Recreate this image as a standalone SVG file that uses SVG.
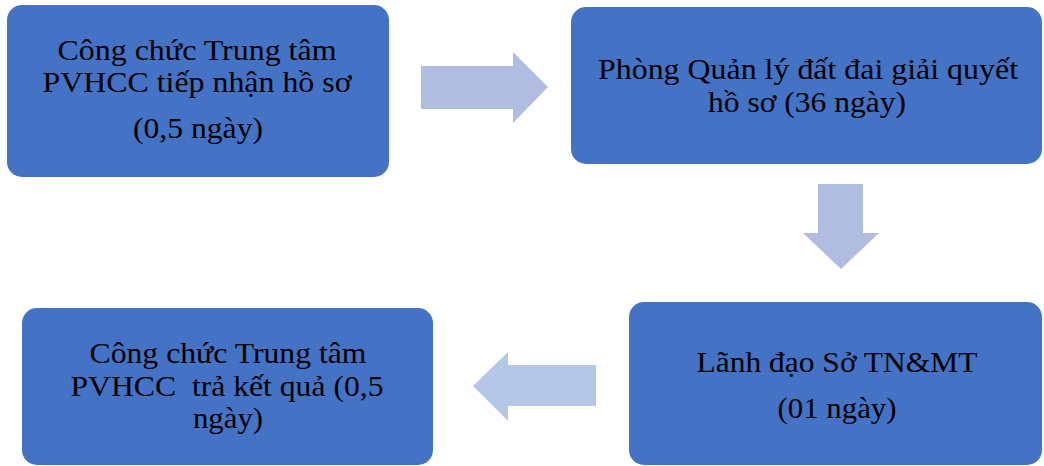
<svg xmlns="http://www.w3.org/2000/svg" width="1044" height="466" viewBox="0 0 1044 466">
<style>
.box{fill:#4472C4;}
.t{font-family:"Liberation Serif","Times New Roman",serif;font-size:30px;fill:#000;text-anchor:middle;}
.a1{fill:#B0BDE0;}
.a2{fill:#B4C7E7;}
</style>
<rect width="1044" height="466" fill="#ffffff"/>
<g id="node1">
<rect class="box" x="7" y="5" width="382" height="172" rx="15"/>
<text class="t" x="197" y="60" textLength="279" lengthAdjust="spacingAndGlyphs">Công chức Trung tâm</text>
<text class="t" x="197" y="92" textLength="309" lengthAdjust="spacingAndGlyphs">PVHCC tiếp nhận hồ sơ</text>
<text class="t" x="198" y="138" textLength="130" lengthAdjust="spacingAndGlyphs">(0,5 ngày)</text>
</g>
<g id="node2">
<rect class="box" x="571" y="7" width="471" height="157" rx="15"/>
<text class="t" x="808" y="79" textLength="420" lengthAdjust="spacingAndGlyphs">Phòng Quản lý đất đai giải quyết</text>
<text class="t" x="807" y="112" textLength="198" lengthAdjust="spacingAndGlyphs">hồ sơ (36 ngày)</text>
</g>
<g id="node3">
<rect class="box" x="629" y="302" width="413" height="163" rx="15"/>
<text class="t" x="837" y="372" textLength="281" lengthAdjust="spacingAndGlyphs">Lãnh đạo Sở TN&amp;MT</text>
<text class="t" x="837" y="418" textLength="119" lengthAdjust="spacingAndGlyphs">(01 ngày)</text>
</g>
<g id="node4">
<rect class="box" x="22" y="308" width="411" height="157" rx="15"/>
<text class="t" x="228" y="363" textLength="277" lengthAdjust="spacingAndGlyphs">Công chức Trung tâm</text>
<text class="t" x="227" y="396" textLength="313" lengthAdjust="spacingAndGlyphs" xml:space="preserve">PVHCC  trả kết quả (0,5</text>
<text class="t" x="228" y="428" textLength="70" lengthAdjust="spacingAndGlyphs">ngày)</text>
</g>
<g id="connectors">
<polygon class="a1" points="421,66 513,66 513,52 548,87 513,123 513,109 421,109"/>
<polygon class="a1" points="818,184 863,184 863,233 879,233 841,269 803,233 818,233"/>
<polygon class="a2" points="596,365 508,365 508,352 473,386 508,421 508,406 596,406"/>
</g>
</svg>
